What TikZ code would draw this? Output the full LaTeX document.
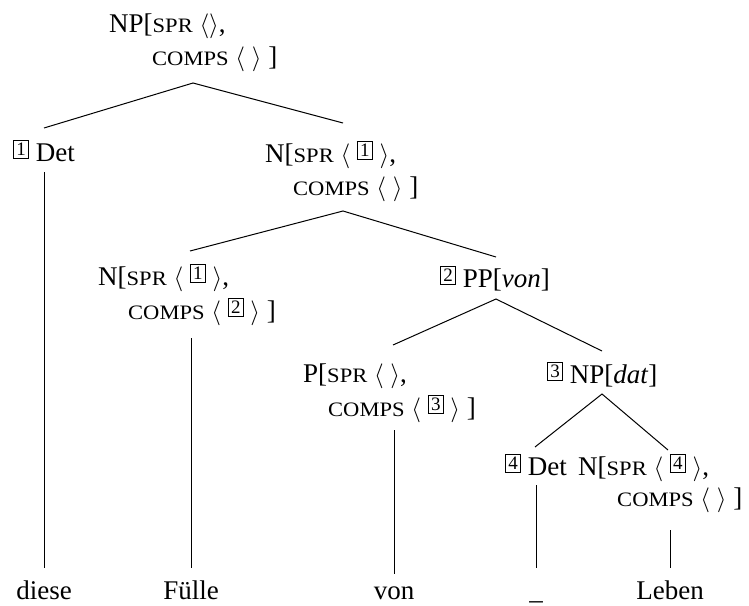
\documentclass[tikz,border=0pt]{standalone}
\usepackage{fontspec}
\setmainfont{Liberation Serif}
\newfontfamily\scfam[FakeStretch=1.1]{Liberation Serif}
\newcommand\sca[1]{{\scfam\fontsize{20.5}{20}\selectfont #1}}
\newcommand\myl{{\fontsize{24}{24}\selectfont$\langle$}}
\newcommand\myr{{\fontsize{24}{24}\selectfont$\rangle$}}
\newcommand\tg[1]{\raisebox{5.3pt}{\setlength\fboxsep{2.4pt}\setlength\fboxrule{0.8pt}\fbox{\fontsize{19}{19}\selectfont #1}}}
\tikzset{
  lab/.style={anchor=base west, inner sep=0pt, font=\fontsize{27}{32}\selectfont},
  leaf/.style={anchor=base, inner sep=0pt, font=\fontsize{27}{32}\selectfont},
  branch/.style={line width=1pt}
}
\begin{document}
\begin{tikzpicture}[x=1pt,y=-1pt]
\useasboundingbox (0,0) rectangle (749,605);
% labels
\node[lab] (root1) at (109,32) {NP[\sca{SPR} \myl\myr,};
\node[lab] (root2) at (152,65) {\sca{COMPS} \myl\ \myr\ ]};
\node[lab] (det) at (13,161) {\tg{1} Det};
\node[lab] (n1) at (265,162) {N[\sca{SPR} \myl\ \tg{1}\ \myr,};
\node[lab] (n2) at (293,195) {\sca{COMPS} \myl\ \myr\ ]};
\node[lab] (n3a) at (98,285) {N[\sca{SPR} \myl\ \tg{1}\ \myr,};
\node[lab] (n3b) at (128,319) {\sca{COMPS} \myl\ \tg{2}\ \myr\ ]};
\node[lab] (pp) at (440,287) {\tg{2} PP[\textit{von}]};
\node[lab] (p1) at (303,382) {P[\sca{SPR} \myl\ \myr,};
\node[lab] (p2) at (328,416) {\sca{COMPS} \myl\ \tg{3}\ \myr\ ]};
\node[lab] (npd) at (547,383) {\tg{3} NP[\textit{dat}]};
\node[lab] (det2) at (505,475) {\tg{4} Det};
\node[lab] (n5a) at (578,475) {N[\sca{SPR} \myl\ \tg{4}\ \myr,};
\node[lab] (n5b) at (617,506) {\sca{COMPS} \myl\ \myr\ ]};
% leaves
\node[leaf] (diese) at (44,599) {diese};
\node[leaf] (fuelle) at (191,599) {Fülle};
\node[leaf] (von) at (394,599) {von};
\node[leaf] (us) at (536,599) {\_};
\node[leaf] (leben) at (670,599) {Leben};
% branch points
\coordinate (root-b) at (193,83);
\coordinate (det-t) at (44,128);
\coordinate (n-t) at (343,123);
\coordinate (n-b) at (343,211);
\coordinate (n3-t) at (190,251);
\coordinate (pp-t) at (496,257);
\coordinate (pp-b) at (496,299);
\coordinate (p-t) at (393,345);
\coordinate (npd-t) at (602,351);
\coordinate (npd-b) at (602,394);
\coordinate (det2-t) at (535,447);
\coordinate (n5-t) at (668,450);
\coordinate (det-b) at (44,172);
\coordinate (diese-t) at (44,568);
\coordinate (n3-b) at (191,338);
\coordinate (fuelle-t) at (191,568);
\coordinate (p-b) at (394,430);
\coordinate (von-t) at (394,574);
\coordinate (det2-b) at (536,485);
\coordinate (us-t) at (536,568);
\coordinate (n5-b) at (670,530);
\coordinate (leben-t) at (670,568);
% branches
\draw[branch] (det-t) -- (root-b) -- (n-t);
\draw[branch] (n3-t) -- (n-b) -- (pp-t);
\draw[branch] (p-t) -- (pp-b) -- (npd-t);
\draw[branch] (det2-t) -- (npd-b) -- (n5-t);
\draw[branch] (det-b) -- (diese-t);
\draw[branch] (n3-b) -- (fuelle-t);
\draw[branch] (p-b) -- (von-t);
\draw[branch] (det2-b) -- (us-t);
\draw[branch] (n5-b) -- (leben-t);
\end{tikzpicture}
\end{document}
